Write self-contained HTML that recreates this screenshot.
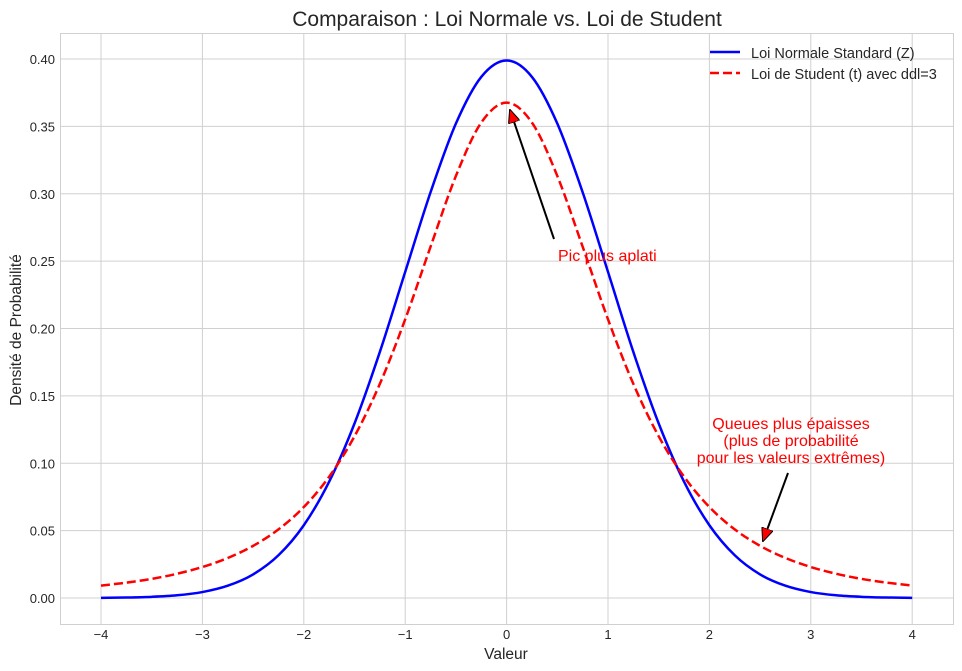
<!DOCTYPE html>
<html><head><meta charset="utf-8"><style>
body{margin:0;background:#fff;}
svg{display:block;font-family:"Liberation Sans",sans-serif;}
</style></head><body>
<svg id="chart" width="962" height="671">
<rect x="0" y="0" width="962" height="671" fill="#fff"/>
<g id="grid"></g>
<rect x="60.5" y="33.5" width="893" height="591" fill="none" stroke="#d0d0d0"/>
<g id="ticks"></g>
<g id="series"></g>
<text x="507" y="26" text-anchor="middle" font-size="21" fill="#262626">Comparaison : Loi Normale vs. Loi de Student</text>
<text x="506" y="659" text-anchor="middle" font-size="15.5" fill="#262626">Valeur</text>
<text x="21" y="330" text-anchor="middle" font-size="15.5" fill="#262626" transform="rotate(-90 21 330)">Densité de Probabilité</text>
<g>
<line x1="710" y1="52" x2="740" y2="52" stroke="#0000ff" stroke-width="2.5"/>
<text x="751" y="58" font-size="14.5" fill="#262626">Loi Normale Standard (Z)</text>
<line x1="710" y1="73" x2="740" y2="73" stroke="#ff0000" stroke-width="2.5" stroke-dasharray="9,4"/>
<text x="751" y="79" font-size="14.5" fill="#262626">Loi de Student (t) avec ddl=3</text>
</g>
<defs><marker id="ah" markerWidth="14" markerHeight="12" refX="13" refY="6" orient="auto" markerUnits="userSpaceOnUse" viewBox="0 0 14 12"><path d="M0,0 L14,6 L0,12 z" fill="#ff0000" stroke="#000" stroke-width="1"/></marker></defs>
<line x1="554" y1="239" x2="510" y2="110" stroke="#000" stroke-width="2" marker-end="url(#ah)"/>
<text x="558" y="261" font-size="16" fill="#ff0000">Pic plus aplati</text>
<line x1="788" y1="473" x2="763" y2="541" stroke="#000" stroke-width="2" marker-end="url(#ah)"/>
<text font-size="16" fill="#ff0000" text-anchor="middle"><tspan x="791" y="429">Queues plus épaisses</tspan><tspan x="791" y="446">(plus de probabilité</tspan><tspan x="791" y="463">pour les valeurs extrêmes)</tspan></text>
</svg>
<script>
const xs=[-4,-3.75,-3.5,-3.25,-3,-2.75,-2.5,-2.25,-2,-1.75,-1.5,-1.25,-1,-0.75,-0.5,-0.25,0,0.25,0.5,0.75,1,1.25,1.5,1.75,2,2.25,2.5,2.75,3,3.25,3.5,3.75,4];
const normalVals=[0.00013,0.00035,0.00087,0.0020,0.0044,0.0091,0.0175,0.0317,0.0540,0.0863,0.1295,0.1826,0.2420,0.3011,0.3521,0.3867,0.3989,0.3867,0.3521,0.3011,0.2420,0.1826,0.1295,0.0863,0.0540,0.0317,0.0175,0.0091,0.0044,0.0020,0.00087,0.00035,0.00013];
const studentVals=[0.0092,0.0114,0.0142,0.0180,0.0230,0.0297,0.0387,0.0509,0.0675,0.0900,0.1200,0.1589,0.2068,0.2607,0.3132,0.3528,0.3676,0.3528,0.3132,0.2607,0.2068,0.1589,0.1200,0.0900,0.0675,0.0509,0.0387,0.0297,0.0230,0.0180,0.0142,0.0114,0.0092];
const xTicks=[-4,-3,-2,-1,0,1,2,3,4];
const xTickLabels=["\u22124","\u22123","\u22122","\u22121","0","1","2","3","4"];
const yTicks=[0,0.05,0.10,0.15,0.20,0.25,0.30,0.35,0.40];
const yTickLabels=["0.00","0.05","0.10","0.15","0.20","0.25","0.30","0.35","0.40"];
const NS="http://www.w3.org/2000/svg";
const X=v=>101+(v+4)*101.4;
const Y=v=>598-v*1347.5;
const grid=document.getElementById('grid'),ticks=document.getElementById('ticks'),ser=document.getElementById('series');
function mk(t,a,p){const e=document.createElementNS(NS,t);for(const k in a)e.setAttribute(k,a[k]);p.appendChild(e);return e;}
xTicks.forEach((v,i)=>{
 const l=mk('line',{x1:X(v),x2:X(v),y1:34,y2:624,stroke:'#d0d0d0','stroke-width':1},grid);
 
 
 const t=mk('text',{x:X(v),y:639,'text-anchor':'middle','font-size':13,fill:'#262626'},ticks);
 t.textContent=xTickLabels[i];
 
 
});
yTicks.forEach((v,i)=>{
 const l=mk('line',{x1:60,x2:953,y1:Y(v),y2:Y(v),stroke:'#d0d0d0','stroke-width':1},grid);
 
 
 const t=mk('text',{x:55,y:Y(v)+5,'text-anchor':'end','font-size':13,fill:'#262626'},ticks);
 t.textContent=yTickLabels[i];
 
 
});
function path(vals){
 const p=xs.map((x,i)=>[X(x),Y(vals[i])]);
 let d='M'+p[0][0]+','+p[0][1];
 for(let i=0;i<p.length-1;i++){
  const p0=p[Math.max(0,i-1)],p1=p[i],p2=p[i+1],p3=p[Math.min(p.length-1,i+2)];
  d+=' C'+(p1[0]+(p2[0]-p0[0])/6)+','+(p1[1]+(p2[1]-p0[1])/6)+' '+(p2[0]-(p3[0]-p1[0])/6)+','+(p2[1]-(p3[1]-p1[1])/6)+' '+p2[0]+','+p2[1];
 }
 return d;
}
const n=mk('path',{d:path(normalVals),fill:'none',stroke:'#0000ff','stroke-width':2.5},ser);


const s=mk('path',{d:path(studentVals),fill:'none',stroke:'#ff0000','stroke-width':2.5,'stroke-dasharray':'9,4'},ser);


</script>
</body></html>
